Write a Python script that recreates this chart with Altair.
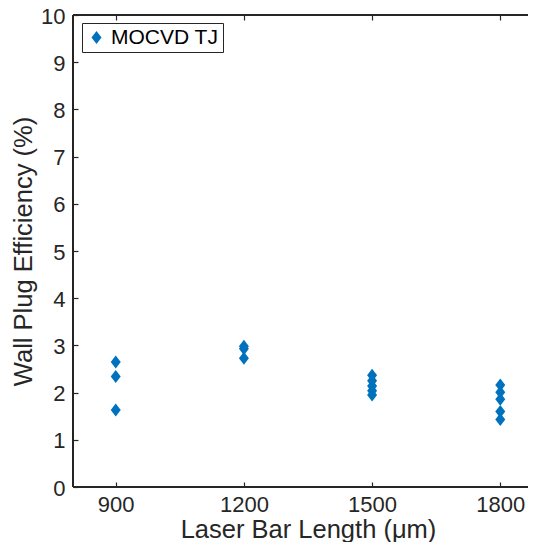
import altair as alt
import pandas as pd

# Data
bar_length = [900, 900, 900,
              1200, 1200, 1200,
              1500, 1500, 1500, 1500, 1500,
              1800, 1800, 1800, 1800, 1800]
wpe = [2.65, 2.34, 1.63,
       2.98, 2.93, 2.73,
       2.37, 2.25, 2.14, 2.04, 1.95,
       2.16, 2.01, 1.86, 1.60, 1.43]
series_name = "MOCVD TJ"
x_ticks = [900, 1200, 1500, 1800]
y_ticks = [0, 1, 2, 3, 4, 5, 6, 7, 8, 9, 10]

df = pd.DataFrame({
    "length": bar_length,
    "wpe": wpe,
    "series": [series_name] * len(bar_length),
})

diamond = "M0,-1.3L1,0L0,1.3L-1,0Z"
ax_color = "#262626"
font = "Liberation Sans"
W, H = 470, 472

xscale = alt.Scale(domain=[800, 1900], nice=False, zero=False)
yscale = alt.Scale(domain=[0, 10], nice=False, zero=False)

points = alt.Chart(df).mark_point(
    shape=diamond, filled=True, size=100, opacity=1
).encode(
    x=alt.X("length:Q", scale=xscale,
            axis=alt.Axis(orient="bottom", values=x_ticks, format="d",
                          title="Laser Bar Length (μm)",
                          offset=-5, tickSize=5, domain=False,
                          labelPadding=7, titlePadding=2, grid=False)),
    y=alt.Y("wpe:Q", scale=yscale,
            axis=alt.Axis(orient="left", values=y_ticks, format="d",
                          title="Wall Plug Efficiency (%)",
                          offset=-5, tickSize=5, domain=False, labelOffset=1,
                          labelPadding=8, titlePadding=4, grid=False)),
    color=alt.Color("series:N", scale=alt.Scale(range=["#0072BD"]),
                    legend=alt.Legend(title=None, orient="none", legendX=9, legendY=8,
                                      symbolType=diamond, symbolSize=100,
                                      labelFontSize=21, labelFont=font,
                                      labelColor="#000000",
                                      strokeColor=ax_color, fillColor="white",
                                      padding=4, labelOffset=4)),
)

top_axis = alt.Chart(df).mark_point(opacity=0).encode(
    x=alt.X("length:Q", scale=xscale,
            axis=alt.Axis(orient="top", values=x_ticks, labels=False, title=None,
                          offset=-5, tickSize=5, domain=False, grid=False)),
)

frame_style = dict(color=ax_color, strokeWidth=1.2)
frame_top = alt.Chart(df).mark_rule(**frame_style).encode(
    x=alt.value(0), x2=alt.value(W), y=alt.value(0))
frame_bottom = alt.Chart(df).mark_rule(**frame_style).encode(
    x=alt.value(0), x2=alt.value(W), y=alt.value(H))
frame_left = alt.Chart(df).mark_rule(**frame_style).encode(
    x=alt.value(0), y=alt.value(0), y2=alt.value(H))

chart = alt.layer(frame_top, frame_bottom, frame_left, points, top_axis).resolve_axis(
    x="independent"
).properties(
    width=W, height=H,
    padding={"left": 65, "top": 7, "right": -15, "bottom": 55},
    autosize=alt.AutoSizeParams(type="none"),
).configure_view(
    stroke="transparent", strokeWidth=0
).configure_axis(
    labelFont=font, labelFontSize=22, labelColor=ax_color,
    titleFont=font, titleFontSize=25.5, titleColor=ax_color, titleFontWeight="normal",
    tickColor=ax_color, tickWidth=1.2,
)

chart.save("out.html", embed_options={"renderer": "svg", "actions": False})
